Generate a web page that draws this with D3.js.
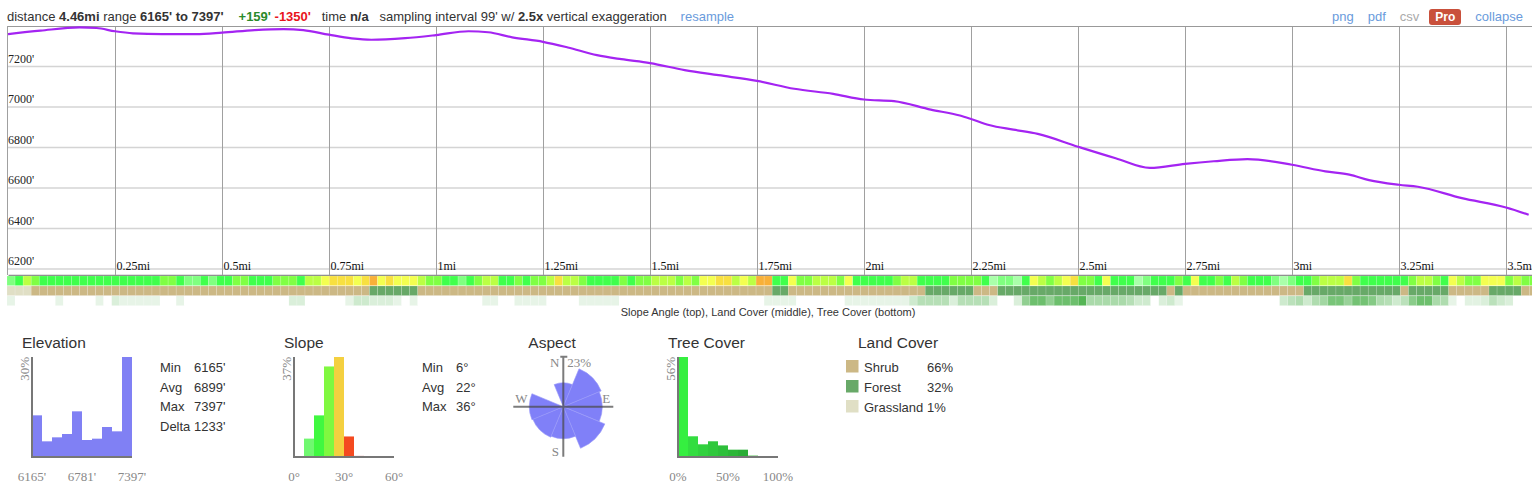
<!DOCTYPE html>
<html>
<head>
<meta charset="utf-8">
<script src="https://d3js.org/d3.v7.min.js"></script>
<style>
body { margin: 0; width: 1532px; height: 488px; overflow: hidden; background: #fff;
       font-family: Arial, "Liberation Sans", sans-serif; color: #333; position: relative; }
#chart { position: absolute; left: 0; top: 0; display: block; }
#header { position: absolute; left: 7px; top: 9px; font-size: 13px; white-space: pre; line-height: 16px; }
#header b { font-weight: bold; }
#header .gain { color: #2a8a2a; font-weight: bold; margin-left: 15px; }
#header .loss { color: #e8141c; font-weight: bold; }
#header .link { color: #6a9bdc; margin-left: 3px; }
#links { position: absolute; right: 9px; top: 9px; font-size: 13px; line-height: 16px; white-space: nowrap; }
#links span { margin-left: 14px; color: #6a9bdc; }
#links span.off { color: #aaa; }
#links span.pro { display: inline-block; background: #c9503b; color: #fff; font-weight: bold; font-size: 12px;
                  padding: 0 6px; border-radius: 3px; margin-left: 10px; height: 16px; }
</style>
</head>
<body>
<div id="header"></div>
<div id="links"></div>
<svg id="chart" width="1532" height="488"></svg>
<script>

// ---------------- data ----------------

var totalMiles = 4.46;
var sampleCount = 237;   // 99' samples along the track

// elevation profile
var profileMiles = [0, 0.076, 0.167, 0.207, 0.25, 0.292, 0.36, 0.439, 0.5, 0.576, 0.644, 0.69, 0.75,
    0.803, 0.849, 0.928, 1.0, 1.076, 1.122, 1.178, 1.25, 1.308, 1.376, 1.433, 1.5, 1.581, 1.66, 1.75,
    1.837, 1.928, 2.0, 2.07, 2.156, 2.224, 2.25, 2.292, 2.349, 2.406, 2.5, 2.588, 2.668, 2.75, 2.817,
    2.896, 3.0, 3.078, 3.134, 3.18, 3.25, 3.294, 3.397, 3.5, 3.553];
var profileFeet = [7360, 7377, 7393, 7390, 7374, 7364, 7360, 7360, 7367, 7380, 7385, 7380, 7357,
    7339, 7332, 7340, 7355, 7374, 7369, 7344, 7322, 7294, 7256, 7236, 7217, 7182, 7157, 7129,
    7090, 7065, 7037, 7029, 6987, 6958, 6941, 6911, 6888, 6867, 6804, 6747, 6699, 6719, 6732,
    6743, 6715, 6682, 6666, 6639, 6616, 6606, 6550, 6504, 6468];

var elevTicks = [6200, 6400, 6600, 6800, 7000, 7200];
var mileTicks = [0.25, 0.5, 0.75, 1, 1.25, 1.5, 1.75, 2, 2.25, 2.5, 2.75, 3, 3.25, 3.5];

// strip cells (one per sample)
var slopeDeg = [
    13,17,23,20,17,17,17,17,17,17,
    17,17,17,17,17,17,16,16,17,20,
    20,17,13,13,16,13,17,17,20,20,
    17,17,17,20,20,20,17,23,23,26,
    28,28,28,26,28,31,26,28,26,26,
    26,23,20,20,17,17,13,17,20,23,
    23,17,17,20,17,20,20,23,28,23,
    23,20,17,17,17,17,20,17,20,20,
    23,23,23,20,23,20,26,26,28,28,
    23,26,23,31,31,17,17,26,20,20,
    23,23,23,20,26,17,17,17,17,17,
    20,23,23,17,17,17,17,20,20,20,
    20,17,9,13,13,9,17,26,23,20,
    23,26,28,20,20,17,26,17,17,17,
    9,13,17,17,17,20,17,26,17,17,
    20,17,23,20,17,17,17,13,9,13,
    17,17,20,23,23,23,28,20,17,17,
    17,17,17,17,20,23,23,20,17,26,
    23,20,20,26,26,26,20,23,20,20];

// 0 shrub, 1 forest, 2 grassland
var landCover = [
    2,2,2,0,0,0,0,0,0,0,
    0,0,0,0,0,0,0,0,0,0,
    0,0,0,0,0,0,0,0,0,0,
    0,0,0,0,0,0,0,0,0,0,
    0,0,0,0,0,1,1,1,1,1,
    1,0,0,0,0,0,0,0,0,0,
    0,0,0,0,0,0,0,0,0,0,
    0,0,0,0,0,0,0,0,0,0,
    0,0,0,0,0,0,0,0,0,0,
    0,0,0,0,0,1,1,0,0,0,
    0,0,0,0,0,0,0,0,0,0,
    0,0,0,0,1,1,1,1,1,1,
    0,0,0,1,1,1,1,1,1,1,
    1,1,1,1,1,1,1,1,1,1,
    1,1,1,1,0,1,0,0,0,0,
    0,0,0,0,0,0,0,0,0,0,
    0,1,1,1,1,1,1,1,1,1,
    1,1,1,0,1,1,1,1,1,0,
    0,0,0,0,1,1,1,1,0,0];

var treeCoverPct = [
    10,0,0,0,0,0,10,0,0,0,
    0,10,0,15,10,10,10,10,10,0,
    0,10,0,0,0,0,0,0,0,0,
    0,0,0,0,0,15,15,0,0,0,
    0,0,10,20,20,15,15,15,10,0,
    10,0,0,0,0,0,0,0,0,10,
    10,0,0,10,10,10,10,0,0,0,
    0,10,10,10,10,10,0,0,0,0,
    0,0,0,0,0,0,0,0,0,0,
    0,0,0,0,10,10,10,10,0,0,
    0,0,0,0,10,10,10,10,10,10,
    10,10,20,30,30,30,30,15,30,30,
    30,30,15,0,0,15,45,60,60,45,
    60,60,60,70,35,35,35,35,35,30,
    20,20,0,15,20,10,0,0,0,0,
    0,0,0,0,0,0,0,0,20,28,
    33,20,33,38,55,55,42,57,57,50,
    33,30,20,28,48,60,60,35,33,10,
    0,12,12,15,28,20,15,0,0,0];

// summary panels
var elevBinPct = [12.5, 4.7, 5.9, 6.9, 13.7, 5.1, 5.5, 9.0, 7.7, 30];
var elevAxisLabels = ["6165'", "6781'", "7397'"];
var elevStats = [["Min", "6165'"], ["Avg", "6899'"], ["Max", "7397'"], ["Delta", "1233'"]];

var slopeBinPct = [0, 6.8, 15.4, 33.5, 37, 7.6, 0.4, 0, 0, 0];   // 6 degree bins
var slopeAxisLabels = ["0°", "30°", "60°"];
var slopeStats = [["Min", "6°"], ["Avg", "22°"], ["Max", "36°"]];

var aspectDirs = ["N", "NE", "E", "SE", "S", "SW", "W", "NW"];
var aspectPct = [6.5, 19.1, 17.2, 23, 11.6, 12.4, 13.1, 0];

var treeBinPct = [56, 11.6, 7.1, 8.8, 6.5, 4.1, 4.1, 0.9, 0, 0];
var treeAxisLabels = ["0%", "50%", "100%"];

var landNames = ["Shrub", "Forest", "Grassland"];
var landPct = ["66%", "32%", "1%"];

// ---------------- colours ----------------
var landColors = ["#ccb885", "#68a968", "#e0dfc5"];
var slopeColor = d3.scaleThreshold()
    .domain([11, 15, 19, 22, 25, 27, 30, 33])
    .range(["#aaffaa", "#80ff80", "#40ff4c", "#80ff44", "#bbff44", "#f4ff50", "#f8e040", "#f8b038", "#f05030"]);
var treeColor = d3.scaleLinear().domain([0, 80]).range(["#ffffff", "#3caa3c"]);
var slopeBinColors = ["#70f870", "#70f870", "#40f840", "#80f840", "#f4d040", "#f44a20", "#c82020", "#c82020", "#c82020", "#c82020"];
var treeBinColors = ["#35ef40", "#33dd40", "#31d13e", "#2fc83c", "#2dbf3a", "#2bb637", "#29ad35", "#7fd07f", "#25a030", "#239830"];

var serif = "'Times New Roman', 'Liberation Serif', serif";

// ---------------- header ----------------
var header = d3.select("#header");
[["distance ", ""], ["4.46mi", "b"], [" range ", ""], ["6165' to 7397'", "b"],
 ["+159'", "gain"], [" ", ""], ["-1350'", "loss"], ["   time ", ""], ["n/a", "b"],
 ["   sampling interval 99' w/ ", ""], ["2.5x", "b"], [" vertical exaggeration   ", ""], ["resample", "link"]]
    .forEach(function(p) {
        if (p[1] == "b") header.append("b").text(p[0]);
        else header.append("span").attr("class", p[1]).text(p[0]);
    });

var links = d3.select("#links");
[["png", ""], ["pdf", ""], ["csv", "off"], ["Pro", "pro"], ["collapse", ""]].forEach(function(p) {
    links.append("span").attr("class", p[1]).text(p[0]);
});


/*
 * ProfileVis - elevation line, grid and the three strips under it
 */

ProfileVis = function(_svg, _miles, _feet){
    this.svg = _svg;
    this.data = _miles.map(function(m, i) { return { mi: m, ft: _feet[i] }; });
    this.initVis();
};

ProfileVis.prototype.initVis = function(){
    var vis = this;

    vis.margin = { top: 26, bottom: 275, left: 8 };
    vis.pxPerMile = 428;

    // Scales
    vis.x = d3.scaleLinear()
        .domain([0, totalMiles])
        .range([vis.margin.left, vis.margin.left + totalMiles * vis.pxPerMile]);

    vis.y = d3.scaleLinear()
        .domain([6200, 7400])
        .range([269, 26]);

    vis.right = vis.x(totalMiles);

    // Horizontal grid
    vis.svg.selectAll(".hgrid")
        .data(elevTicks)
        .enter().append("line")
        .attr("class", "hgrid")
        .attr("x1", vis.margin.left)
        .attr("x2", vis.right)
        .attr("y1", function(d) { return vis.y(d); })
        .attr("y2", function(d) { return vis.y(d); })
        .attr("stroke", "#d4d4d4")
        .attr("stroke-width", 1.5);

    vis.svg.selectAll(".ylabel")
        .data(elevTicks)
        .enter().append("text")
        .attr("class", "ylabel")
        .attr("x", vis.margin.left)
        .attr("y", function(d) { return vis.y(d) - 4; })
        .attr("font-family", serif)
        .attr("font-size", 12)
        .attr("fill", "#222")
        .text(function(d) { return d + "'"; });

    // x axis with full height tick lines as the vertical grid
    vis.xAxis = d3.axisBottom(vis.x)
        .tickValues(mileTicks)
        .tickSize(-(vis.margin.bottom - vis.margin.top))
        .tickSizeOuter(0)
        .tickFormat(function(d) { return d + "mi"; });

    var gx = vis.svg.append("g")
        .attr("class", "x-axis")
        .attr("transform", "translate(0," + vis.margin.bottom + ")")
        .call(vis.xAxis)
        .attr("font-family", serif)
        .attr("font-size", 12);

    gx.select(".domain").attr("stroke", "#888").attr("stroke-width", 1.5);
    gx.selectAll(".tick line").attr("stroke", "#a0a0a0");
    gx.selectAll(".tick text")
        .attr("x", 1)
        .attr("y", -5)
        .attr("dy", null)
        .attr("text-anchor", "start")
        .attr("fill", "#111");

    // frame top and left
    vis.svg.append("line")
        .attr("x1", vis.margin.left - 1).attr("x2", vis.right)
        .attr("y1", vis.margin.top + 0.5).attr("y2", vis.margin.top + 0.5)
        .attr("stroke", "#999");
    vis.svg.append("line")
        .attr("x1", vis.margin.left - 0.5).attr("x2", vis.margin.left - 0.5)
        .attr("y1", vis.margin.top).attr("y2", vis.margin.bottom)
        .attr("stroke", "#a0a0a0");

    // elevation line
    vis.line = d3.line()
        .x(function(d) { return vis.x(d.mi); })
        .y(function(d) { return vis.y(d.ft); })
        .curve(d3.curveMonotoneX);

    vis.svg.append("path")
        .datum(vis.data)
        .attr("d", vis.line)
        .attr("fill", "none")
        .attr("stroke", "#a424f2")
        .attr("stroke-width", 2.2);

    vis.drawStrips();
};

ProfileVis.prototype.drawStrips = function(){
    var vis = this;

    var step = totalMiles / sampleCount;
    var rows = [
        { values: slopeDeg, color: slopeColor, y: 276 },
        { values: landCover, color: function(d) { return landColors[d]; }, y: 286 },
        { values: treeCoverPct, color: treeColor, y: 296 }
    ];

    rows.forEach(function(row) {
        vis.svg.append("g").selectAll("rect")
            .data(row.values)
            .enter().append("rect")
            .attr("x", function(d, i) { return vis.x(i * step) - 1; })
            .attr("y", row.y)
            .attr("width", function(d, i) { return vis.x((i + 1) * step) - vis.x(i * step); })
            .attr("height", 9.6)
            .attr("fill", function(d) { return row.color(d); })
            .attr("stroke", "#fff")
            .attr("stroke-opacity", 0.3)
            .attr("stroke-width", 0.5);
    });

    vis.svg.append("text")
        .attr("x", 768)
        .attr("y", 315.5)
        .attr("text-anchor", "middle")
        .attr("font-size", 11)
        .attr("fill", "#333")
        .text("Slope Angle (top), Land Cover (middle), Tree Cover (bottom)");
};


/*
 * HistVis - small histogram panel
 */

HistVis = function(_svg, _left, _title, _values, _maxPct, _colors, _labels, _stats){
    this.svg = _svg;
    this.left = _left;
    this.title = _title;
    this.values = _values;
    this.maxPct = _maxPct;
    this.colors = _colors;
    this.labels = _labels;
    this.stats = _stats;
    this.initVis();
};

HistVis.prototype.initVis = function(){
    var vis = this;

    vis.top = 357;
    vis.bottom = 457;
    vis.width = 100;

    vis.g = vis.svg.append("g");

    vis.x = d3.scaleLinear()
        .domain([0, vis.values.length])
        .range([vis.left, vis.left + vis.width]);

    vis.y = d3.scaleLinear()
        .domain([0, vis.maxPct])
        .range([vis.bottom, vis.top]);

    vis.g.append("text")
        .attr("x", vis.left - 10)
        .attr("y", 348)
        .attr("font-size", 15.5)
        .attr("fill", "#333")
        .text(vis.title);

    // bars
    vis.g.selectAll(".bar")
        .data(vis.values)
        .enter().append("rect")
        .attr("class", "bar")
        .attr("x", function(d, i) { return vis.x(i); })
        .attr("y", function(d) { return vis.y(d); })
        .attr("width", function(d, i) { return vis.x(i + 1) - vis.x(i); })
        .attr("height", function(d) { return vis.y(0) - vis.y(d); })
        .attr("fill", function(d, i) { return typeof vis.colors === "string" ? vis.colors : vis.colors[i]; });

    // axes
    vis.g.append("path")
        .attr("d", "M" + vis.x(0) + "," + vis.y(vis.maxPct) + "V" + vis.y(0) + "H" + vis.x(vis.values.length))
        .attr("fill", "none")
        .attr("stroke", "#777")
        .attr("stroke-width", 2);

    // max label
    vis.g.append("text")
        .attr("transform", "translate(" + (vis.left - 3.5) + "," + vis.top + ") rotate(-90)")
        .attr("text-anchor", "end")
        .attr("font-family", serif)
        .attr("font-size", 13)
        .attr("fill", "#888")
        .text(vis.maxPct + "%");

    // tick labels at start, middle, end
    var n = vis.values.length;
    vis.g.selectAll(".tlabel")
        .data(vis.labels)
        .enter().append("text")
        .attr("class", "tlabel")
        .attr("x", function(d, i) { return vis.x(i * n / 2); })
        .attr("y", 481)
        .attr("text-anchor", "middle")
        .attr("font-family", serif)
        .attr("font-size", 13)
        .attr("fill", "#888")
        .text(function(d) { return d; });

    // stats table
    if (vis.stats) {
        var rows = vis.g.selectAll(".stat")
            .data(vis.stats)
            .enter().append("g")
            .attr("class", "stat")
            .attr("transform", function(d, i) { return "translate(" + (vis.left + 128) + "," + (372 + i * 19.7) + ")"; });
        rows.append("text")
            .attr("font-size", 13).attr("fill", "#333")
            .text(function(d) { return d[0]; });
        rows.append("text")
            .attr("x", 34)
            .attr("font-size", 13).attr("fill", "#333")
            .text(function(d) { return d[1]; });
    }
};


/*
 * AspectVis - rose of slope aspect
 */

AspectVis = function(_svg, _cx, _cy, _dirs, _pct){
    this.svg = _svg;
    this.cx = _cx;
    this.cy = _cy;
    this.dirs = _dirs;
    this.pct = _pct;
    this.initVis();
};

AspectVis.prototype.initVis = function(){
    var vis = this;

    vis.radius = 50;
    vis.maxPct = d3.max(vis.pct);

    vis.g = vis.svg.append("g")
        .attr("transform", "translate(" + vis.cx + "," + vis.cy + ")");

    vis.svg.append("text")
        .attr("x", vis.cx - 35)
        .attr("y", 348)
        .attr("font-size", 15.5)
        .attr("fill", "#333")
        .text("Aspect");

    vis.r = d3.scaleSqrt()
        .domain([0, vis.maxPct])
        .range([0, 45]);

    var slice = 2 * Math.PI / vis.dirs.length;
    vis.arc = d3.arc()
        .innerRadius(0)
        .outerRadius(function(d) { return vis.r(d.value); })
        .startAngle(function(d) { return d.index * slice - slice / 2; })
        .endAngle(function(d) { return d.index * slice + slice / 2; });

    vis.g.selectAll(".sector")
        .data(vis.pct.map(function(v, i) { return { value: v, index: i }; }))
        .enter().append("path")
        .attr("class", "sector")
        .attr("d", vis.arc)
        .attr("fill", "#8080f8")
        .attr("stroke", "#9898f8")
        .attr("stroke-width", 0.6);

    // cross
    vis.g.append("path")
        .attr("d", "M" + (-vis.radius) + ",0H" + vis.radius + "M0," + (-vis.radius) + "V" + vis.radius +
                   "M-3," + (-vis.radius) + "H4")
        .attr("stroke", "#4a4a4a")
        .attr("stroke-opacity", 0.72)
        .attr("stroke-width", 2)
        .attr("fill", "none");

    var labels = [
        { t: "N", x: -4, y: -40, a: "end" },
        { t: vis.maxPct + "%", x: 4, y: -40, a: "start" },
        { t: "W", x: -48, y: -4, a: "start" },
        { t: "E", x: 39, y: -4, a: "start" },
        { t: "S", x: -11.5, y: 49, a: "start" }
    ];
    vis.g.selectAll(".dir")
        .data(labels)
        .enter().append("text")
        .attr("class", "dir")
        .attr("x", function(d) { return d.x; })
        .attr("y", function(d) { return d.y; })
        .attr("text-anchor", function(d) { return d.a; })
        .attr("font-family", serif)
        .attr("font-size", 13)
        .attr("fill", "#888")
        .text(function(d) { return d.t; });
};


/*
 * LegendVis - land cover breakdown
 */

LegendVis = function(_svg, _left, _names, _pct, _colors){
    this.svg = _svg;
    this.left = _left;
    this.names = _names;
    this.pct = _pct;
    this.colors = _colors;
    this.initVis();
};

LegendVis.prototype.initVis = function(){
    var vis = this;

    vis.svg.append("text")
        .attr("x", vis.left + 12)
        .attr("y", 348)
        .attr("font-size", 15.5)
        .attr("fill", "#333")
        .text("Land Cover");

    var rows = vis.svg.selectAll(".legend-row")
        .data(vis.names)
        .enter().append("g")
        .attr("class", "legend-row")
        .attr("transform", function(d, i) { return "translate(" + vis.left + "," + (360 + i * 20) + ")"; });

    rows.append("rect")
        .attr("width", 12.5)
        .attr("height", 12.5)
        .attr("fill", function(d, i) { return vis.colors[i]; });

    rows.append("text")
        .attr("x", 18)
        .attr("y", 11.5)
        .attr("font-size", 13)
        .attr("fill", "#333")
        .text(function(d) { return d; });

    rows.append("text")
        .attr("x", 81)
        .attr("y", 11.5)
        .attr("font-size", 13)
        .attr("fill", "#333")
        .text(function(d, i) { return vis.pct[i]; });
};


// ---------------- build ----------------
var svg = d3.select("#chart");
var profile = new ProfileVis(svg, profileMiles, profileFeet);
var elevHist = new HistVis(svg, 32, "Elevation", elevBinPct, 30, "#8080f4", elevAxisLabels, elevStats);
var slopeHist = new HistVis(svg, 294, "Slope", slopeBinPct, 37, slopeBinColors, slopeAxisLabels, slopeStats);
var aspect = new AspectVis(svg, 563.3, 406.7, aspectDirs, aspectPct);
var treeHist = new HistVis(svg, 678, "Tree Cover", treeBinPct, 56, treeBinColors, treeAxisLabels, null);
var legend = new LegendVis(svg, 846, landNames, landPct, landColors);

</script>
</body>
</html>
